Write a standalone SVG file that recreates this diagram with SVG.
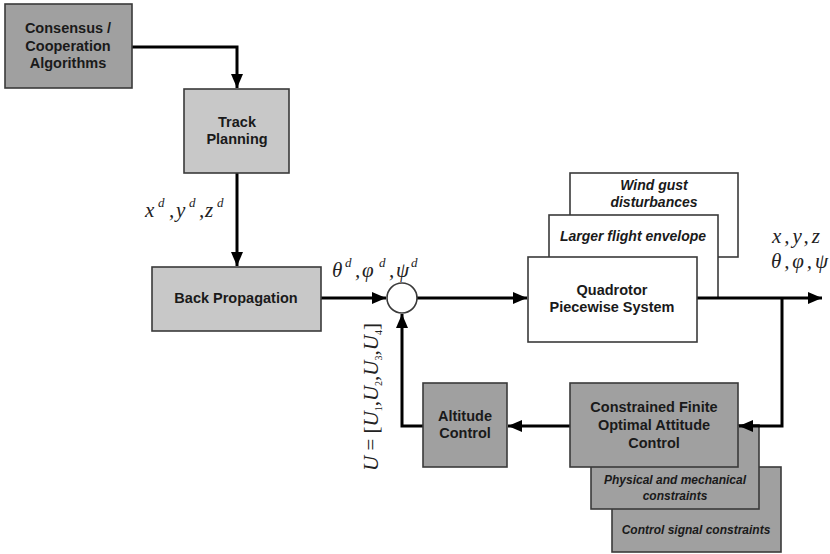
<svg xmlns="http://www.w3.org/2000/svg" width="830" height="554" viewBox="0 0 830 554">
  <style>
    .box { stroke: #3a3a3a; stroke-width: 1.6; }
    .dark { fill: #a0a0a0; }
    .light { fill: #c8c8c8; }
    .white { fill: #ffffff; }
    .lbl { font-family: "Liberation Sans", Arial, sans-serif; font-weight: bold; font-size: 14.5px; fill: #1a1a1a; text-anchor: middle; }
    .it { font-family: "Liberation Sans", Arial, sans-serif; font-weight: bold; font-style: italic; fill: #1a1a1a; text-anchor: middle; }
    .m { font-family: "Liberation Serif", "Times New Roman", serif; font-style: italic; font-size: 21px; fill: #222; }
    .sup { font-size: 13px; }
    .sub { font-size: 10px; font-style: normal; }
    .up { font-style: normal; }
    .wire { fill: none; stroke: #000; stroke-width: 3; }
  </style>
  <defs>
    <marker id="arr" viewBox="0 0 14 12" refX="14" refY="6" markerWidth="14" markerHeight="12" markerUnits="userSpaceOnUse" orient="auto">
      <path d="M0,0 L14,6 L0,12 Z" fill="#000"/>
    </marker>
  </defs>

  <!-- stacked boxes behind the plant -->
  <g id="wind">
    <rect class="box white" x="570" y="173" width="168" height="84"/>
    <text class="it" font-size="14" x="654" y="190">Wind gust</text>
    <text class="it" font-size="14" x="654" y="207">disturbances</text>
  </g>
  <g id="envelope">
    <rect class="box white" x="549" y="215" width="169" height="83"/>
    <text class="it" font-size="14" x="633" y="241">Larger flight envelope</text>
  </g>

  <!-- stacked boxes behind the attitude controller -->
  <g id="signal">
    <rect class="box dark" x="612" y="467" width="169" height="85"/>
    <text class="it" font-size="12" x="696" y="534">Control signal constraints</text>
  </g>
  <g id="physical">
    <rect class="box dark" x="591" y="425" width="168" height="84"/>
    <text class="it" font-size="12" x="675" y="484">Physical and mechanical</text>
    <text class="it" font-size="12" x="675" y="500">constraints</text>
  </g>

  <g id="connectors">
    <path class="wire" d="M132,47 H237 V88" marker-end="url(#arr)"/>
    <path class="wire" d="M237,173 V266" marker-end="url(#arr)"/>
    <path class="wire" d="M321,298 H386" marker-end="url(#arr)"/>
    <path class="wire" d="M417,298 H527" marker-end="url(#arr)"/>
    <path class="wire" d="M697,298 H822" marker-end="url(#arr)"/>
    <path class="wire" d="M782,298 V426 H739" marker-end="url(#arr)"/>
    <path class="wire" d="M570,426 H508" marker-end="url(#arr)"/>
    <path class="wire" d="M423,426 H402 V314" marker-end="url(#arr)"/>
  </g>

  <g id="consensus">
    <rect class="box dark" x="5" y="4" width="127" height="84"/>
    <text class="lbl" x="68" y="33">Consensus /</text>
    <text class="lbl" x="68" y="51">Cooperation</text>
    <text class="lbl" x="68" y="68">Algorithms</text>
  </g>

  <g id="track">
    <rect class="box light" x="184" y="89" width="105" height="84"/>
    <text class="lbl" x="237" y="127">Track</text>
    <text class="lbl" x="237" y="144">Planning</text>
  </g>

  <g id="backprop">
    <rect class="box light" x="152" y="267" width="169" height="64"/>
    <text class="lbl" x="236" y="303">Back Propagation</text>
  </g>

  <g id="sum">
    <circle cx="402" cy="298" r="15" fill="#fff" stroke="#3a3a3a" stroke-width="1.6"/>
  </g>

  <g id="plant">
    <rect class="box white" x="528" y="257" width="169" height="85"/>
    <text class="lbl" x="612" y="295">Quadrotor</text>
    <text class="lbl" x="612" y="312">Piecewise System</text>
  </g>

  <g id="attitude">
    <rect class="box dark" x="570" y="383" width="168" height="84"/>
    <text class="lbl" x="654" y="412">Constrained Finite</text>
    <text class="lbl" x="654" y="430">Optimal Attitude</text>
    <text class="lbl" x="654" y="448">Control</text>
  </g>

  <g id="altitude">
    <rect class="box dark" x="423" y="383" width="84" height="84"/>
    <text class="lbl" x="465" y="421">Altitude</text>
    <text class="lbl" x="465" y="438">Control</text>
  </g>

  <!-- signal labels -->
  <text class="m" y="217"><tspan x="145">x</tspan><tspan class="sup" x="158" y="207">d</tspan><tspan x="169" y="217">,</tspan><tspan x="176">y</tspan><tspan class="sup" x="189" y="207">d</tspan><tspan x="199" y="217">,</tspan><tspan x="205">z</tspan><tspan class="sup" x="217" y="207">d</tspan></text>
  <text class="m" y="277"><tspan x="332">θ</tspan><tspan class="sup" x="345" y="267">d</tspan><tspan x="355" y="277">,</tspan><tspan x="362">φ</tspan><tspan class="sup" x="379" y="267">d</tspan><tspan x="389" y="277">,</tspan><tspan x="396">ψ</tspan><tspan class="sup" x="411" y="267">d</tspan></text>
  <text class="m" x="772" y="243" textLength="48" lengthAdjust="spacing">x,y,z</text>
  <text class="m" font-size="22" x="771" y="268" textLength="57" lengthAdjust="spacing">θ,φ,ψ</text>
  <text class="m" font-size="17" text-anchor="middle" transform="translate(378,397) rotate(-90)">U<tspan class="up"> = [</tspan>U<tspan class="sub" dy="4">1</tspan><tspan class="up" dy="-4">,</tspan>U<tspan class="sub" dy="4">2</tspan><tspan class="up" dy="-4">,</tspan>U<tspan class="sub" dy="4">3</tspan><tspan class="up" dy="-4">,</tspan>U<tspan class="sub" dy="4">4</tspan><tspan class="up" dy="-4">]</tspan></text>
</svg>
